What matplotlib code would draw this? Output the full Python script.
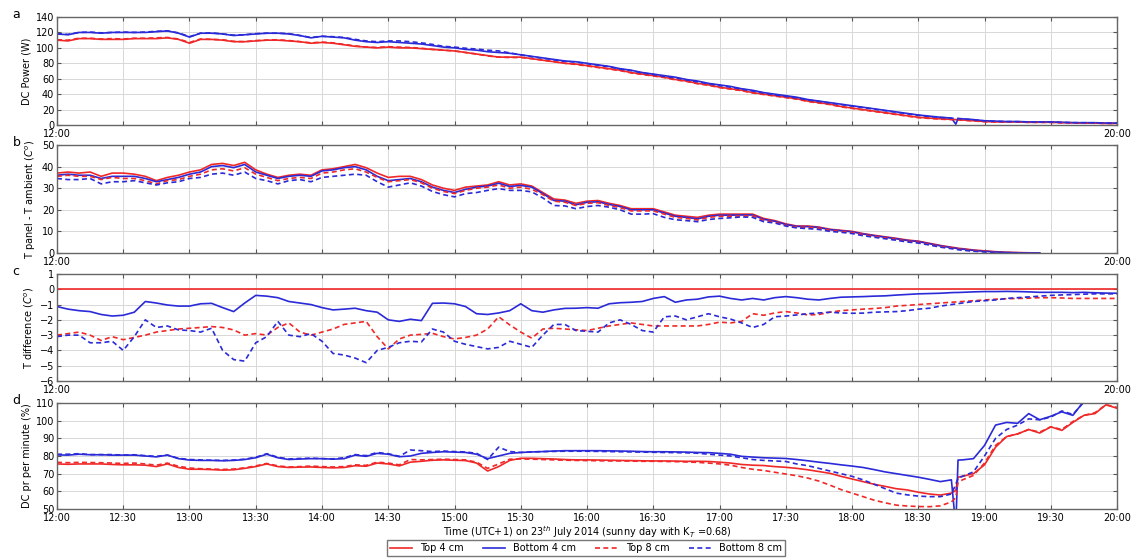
import numpy as np
import matplotlib
matplotlib.use("Agg")
import matplotlib.pyplot as plt

nan = np.nan

# minutes after 12:00, 5 min steps plus two 1-min samples around the 18:47 dropout
minutes = list(range(0, 406, 5)) + [407, 408] + list(range(410, 481, 5))

# --- a: DC power (W) ---
power_top4 = [110, 109, 112, 112, 111, 111, 111, 112, 112, 112, 113, 111,
              106, 111, 111, 110, 108, 108, 109, 110, 110, 109, 108, 106,
              107, 106, 104, 102, 101, 100, 101, 100, 100, 99, 98, 97,
              96, 94, 92, 90, 88, 88, 88, 86, 84, 82, 80, 79,
              77, 75, 73, 71, 68, 66, 64, 62, 59, 57, 54, 52,
              49, 47, 45, 42, 40, 38, 36, 34, 31, 29, 27, 24,
              22, 20, 18, 16, 14, 12, 10, 9, 8, 7.3, 7, 6.8, 6.5, 5.5,
              4.5, 4, 4, 4, 3.5, 3.5, 3.5, 3, 3, 2.5, 2.5, 2, 2]
power_bot4 = [118, 117, 120, 120, 119, 120, 120, 120, 120, 121, 122, 119,
              114, 119, 119, 118, 116, 117, 118, 119, 119, 118, 116, 113,
              115, 114, 113, 110, 108, 107, 108, 107, 106, 105, 103, 101,
              100, 98, 97, 95, 94, 93, 91, 89, 87, 85, 83, 82,
              80, 78, 76, 73, 71, 68, 66, 64, 62, 59, 57, 54,
              52, 50, 47, 45, 42, 40, 38, 36, 33, 31, 29, 27,
              25, 23, 21, 19, 17, 15, 13, 11.5, 10, 9, 1, 8.5, 8, 7,
              5.5, 5, 4.5, 4.5, 4, 4, 4, 3.5, 3, 3, 3, 2.5, 2.5]
power_top8 = [110.5, 110, 112.5, 112.5, 111.5, 112, 111.5, 112.5, 112.5, 113, 113.5, 111.5,
              107, 111.5, 111, 110.5, 108.5, 108, 109.5, 110, 110.5, 109.5, 108, 106.5,
              107.5, 106.5, 104.5, 102.5, 101, 100.5, 101.5, 101, 100.5, 99.5, 98, 97,
              96, 94, 92, 89.5, 88, 87.5, 87.5, 86, 84, 82, 80, 78.5,
              76.5, 74.5, 72.5, 70.5, 67.5, 65.5, 63.5, 61.5, 58.5, 56.5, 53.5, 51.5,
              48.5, 46.5, 44.5, 41.5, 39.5, 37.5, 35.5, 33.5, 30.5, 28.5, 26.5, 23.5,
              21.5, 19.5, 17.5, 15.5, 13.5, 11.5, 9.5, 8.5, 7.5, 7, 6.8, 6.6, 6.2, 5.2,
              4.3, 3.9, 3.8, 3.8, 3.4, 3.4, 3.3, 2.9, 2.8, 2.4, 2.3, 1.9, 1.9]
power_bot8 = [118.5, 117.5, 120, 120.5, 119.5, 120, 120.5, 120, 120.5, 121.5, 122, 119.5,
              114.5, 119, 119.5, 118, 116.5, 117, 118.5, 119, 119, 118.5, 116, 113.5,
              115, 114.5, 113.5, 111, 109, 108, 109, 109, 108, 106.5, 104.5, 102,
              101, 99.5, 98.5, 97, 96, 93.5, 91, 88.5, 86.5, 84.5, 82.5, 81.5,
              79.5, 77.5, 75.5, 72.5, 70.5, 67.5, 65.5, 63, 61, 58.5, 56, 53.5,
              51, 49, 46.5, 44, 41.5, 39, 37, 35, 32.5, 30.5, 28.5, 26.5,
              24.5, 22.5, 20.5, 18.5, 16.5, 14.5, 12.5, 11, 9.8, 8.8, 8.5, 8.2, 7.8, 6.8,
              5.3, 4.8, 4.4, 4.3, 3.9, 3.8, 3.8, 3.4, 3, 2.9, 2.8, 2.4, 2.4]

# --- b: T panel - T ambient ---
dt_top4 = [37, 37.5, 37, 37.5, 35.5, 37, 37, 36.5, 35.5, 33.5, 35, 36,
           37.5, 38.5, 41, 41.5, 40.5, 42, 38.5, 36.5, 35, 36, 36.5, 36,
           38.5, 39, 40, 41, 39.5, 37, 35, 35.5, 35.5, 34, 31.5, 30,
           29, 30.5, 31, 31.5, 33, 31.5, 32, 31, 28, 25, 24.5, 23,
           24, 24.3, 23, 22, 20.5, 20.5, 20.5, 19, 17.5, 17, 16.5, 17.5,
           18, 18, 18, 18, 16, 15, 13.5, 12.5, 12.5, 12, 11, 10.5,
           10, 9, 8.2, 7.5, 6.8, 6, 5.5, 4.5, 3.5, 2.7, 2.4, 2.2, 2, 1.4,
           1.0, 0.6, 0.3, 0.2, 0.1, 0, nan, nan, nan, nan, nan, nan, nan]
dt_bot4 = [36, 36.5, 36, 36, 34.5, 35.5, 35.5, 35.5, 34.5, 33, 34, 35,
           36.5, 37.5, 40, 40.5, 39.5, 41, 37.5, 36, 34.5, 35.5, 36, 35.5,
           38, 38.5, 39.5, 40, 38.5, 35.5, 33.5, 34, 34.5, 33, 30.5, 29,
           28, 29.5, 30.5, 31, 32.3, 30.8, 31.3, 30.5, 27.5, 24.3, 24, 22.3,
           23.5, 23.7, 22.5, 21.5, 20, 20, 20, 18.5, 17, 16.5, 15.8, 17,
           17.5, 17.5, 17.6, 17.6, 15.6, 14.7, 13.2, 12.3, 12.2, 11.8, 10.8, 10.3,
           9.8, 8.8, 8, 7.3, 6.6, 5.8, 5.3, 4.3, 3.3, 2.5, 2.2, 2.0, 1.8, 1.2,
           0.8, 0.5, 0.25, 0.1, 0, 0, nan, nan, nan, nan, nan, nan, nan]
dt_top8 = [35.5, 36, 35.5, 35.5, 34, 35, 34.5, 34.5, 33.5, 32, 33.5, 34,
           35.5, 36.5, 38.5, 39, 38, 39.5, 36.5, 35, 33.5, 34.5, 35, 34.5,
           37, 37.5, 38.5, 39, 37.5, 35, 33, 33.5, 34, 32.5, 30, 28.5,
           27.5, 29, 30, 30.5, 31.5, 30, 30.5, 29.5, 27, 24, 23.5, 22,
           23, 23.3, 22, 21, 19.5, 19.5, 19.5, 18, 16.5, 16, 15.3, 16.5,
           17, 17, 17.2, 17.2, 15.2, 14.3, 12.8, 12, 11.9, 11.5, 10.5, 10,
           9.5, 8.5, 7.7, 7, 6.3, 5.5, 5, 4, 3, 2.3, 2.0, 1.8, 1.6, 1.0,
           0.7, 0.4, 0.2, 0.1, 0, 0, nan, nan, nan, nan, nan, nan, nan]
dt_bot8 = [34.5, 34, 34, 34.5, 32, 33, 33, 33.5, 32.5, 31.5, 32.5, 33,
           34.5, 35, 36.5, 37, 36, 37.5, 34.5, 33.5, 32, 33.5, 34, 33,
           35, 35.5, 36, 36.5, 36, 33, 30.5, 31.5, 32.5, 31, 28.5, 27,
           26, 27.5, 28, 29, 29.8, 29, 29, 28.3, 25.5, 22, 21.8, 20.5,
           21.5, 22, 21.2, 20, 18, 18, 18.2, 16.5, 15.4, 15, 14.5, 15.5,
           16, 16.3, 16.7, 16.5, 14.5, 13.9, 12.5, 11.6, 11.3, 10.9, 10, 9.6,
           9, 8, 7.3, 6.6, 5.9, 5.1, 4.6, 3.7, 2.7, 2, 1.7, 1.5, 1.3, 0.8,
           0.5, 0.3, 0.1, 0, 0, 0, nan, nan, nan, nan, nan, nan, nan]

# --- c: temperature difference relative to the top 4 cm sensor ---
tdiff_top4 = [0.0] * len(minutes)
tdiff_bot4 = [-1.13, -1.3, -1.4, -1.46, -1.65, -1.75, -1.7, -1.5, -0.8, -0.9, -1.03, -1.1,
              -1.1, -0.95, -0.92, -1.2, -1.46, -0.9, -0.4, -0.45, -0.55, -0.8, -0.9, -1.0,
              -1.2, -1.35, -1.3, -1.24, -1.4, -1.5, -2.0, -2.1, -1.96, -2.05, -0.92, -0.9,
              -0.95, -1.13, -1.6, -1.65, -1.55, -1.4, -0.95, -1.4, -1.5, -1.35, -1.25, -1.24,
              -1.2, -1.24, -0.95, -0.88, -0.85, -0.8, -0.6, -0.48, -0.85, -0.7, -0.65, -0.5,
              -0.45, -0.6, -0.7, -0.6, -0.7, -0.55, -0.48, -0.55, -0.65, -0.7, -0.6, -0.52,
              -0.5, -0.48, -0.45, -0.43, -0.38, -0.34, -0.3, -0.28, -0.26, -0.22, -0.21, -0.21, -0.2, -0.17,
              -0.15, -0.15, -0.14, -0.15, -0.17, -0.2, -0.2, -0.2, -0.22, -0.2, -0.23, -0.25, -0.26]
tdiff_top8 = [-3.0, -2.9, -2.8, -3.0, -3.35, -3.1, -3.3, -3.15, -3.0, -2.8, -2.7, -2.6,
              -2.55, -2.5, -2.44, -2.5, -2.66, -3.0, -2.9, -3.0, -2.5, -2.2, -2.8, -3.0,
              -2.8, -2.6, -2.3, -2.2, -2.1, -3.1, -3.9, -3.25, -3.0, -2.95, -2.88, -3.1,
              -3.25, -3.15, -3.0, -2.6, -1.8, -2.33, -2.8, -3.2, -2.6, -2.55, -2.6, -2.65,
              -2.7, -2.55, -2.4, -2.3, -2.2, -2.3, -2.4, -2.4, -2.4, -2.4, -2.4, -2.3,
              -2.15, -2.2, -2.1, -1.6, -1.7, -1.55, -1.46, -1.55, -1.68, -1.65, -1.5, -1.4,
              -1.35, -1.3, -1.26, -1.2, -1.1, -1.05, -1.0, -0.95, -0.9, -0.85, -0.83, -0.82, -0.8, -0.75,
              -0.7, -0.65, -0.62, -0.6, -0.58, -0.55, -0.55, -0.57, -0.6, -0.6, -0.6, -0.6, -0.6]
tdiff_bot8 = [-3.1, -3.0, -3.0, -3.5, -3.5, -3.4, -4.0, -3.1, -2.0, -2.5, -2.4, -2.66,
              -2.7, -2.8, -2.55, -4.0, -4.6, -4.7, -3.5, -3.1, -2.1, -3.0, -3.1, -2.9,
              -3.4, -4.2, -4.3, -4.5, -4.8, -4.0, -3.8, -3.5, -3.4, -3.45, -2.6, -2.8,
              -3.4, -3.6, -3.75, -3.9, -3.8, -3.4, -3.6, -3.8, -3.0, -2.3, -2.3, -2.7,
              -2.75, -2.8, -2.2, -2.0, -2.3, -2.7, -2.8, -1.8, -1.75, -2.0, -1.8, -1.6,
              -1.8, -1.95, -2.2, -2.5, -2.3, -1.8, -1.75, -1.68, -1.6, -1.55, -1.5, -1.55,
              -1.57, -1.56, -1.5, -1.48, -1.46, -1.4, -1.3, -1.24, -1.1, -1.0, -0.96, -0.94, -0.9, -0.8,
              -0.75, -0.7, -0.6, -0.55, -0.5, -0.45, -0.4, -0.37, -0.35, -0.32, -0.3, -0.3, -0.3]

# --- d: DC performance ratio per minute (%) ---
pr_top4 = [75.5, 75.3, 75.5, 75.5, 75.5, 75.2, 75, 75, 74.8, 74, 75.5, 73.5,
           72.5, 72.5, 72.3, 72, 72.2, 73, 74, 75.5, 74, 73.5, 73.7, 73.8,
           73.5, 73.3, 73.5, 74.5, 74.2, 76, 75.5, 74.4, 76.5, 77, 77.6, 77.8,
           77.6, 77.4, 76, 71.5, 74, 77.5, 78.7, 78.7, 78.5, 78.3, 78, 77.8,
           77.8, 77.7, 77.6, 77.5, 77.4, 77.3, 77.2, 77.2, 77.1, 77, 77, 76.9,
           76.5, 76, 75.2, 74.8, 74.6, 74, 73.6, 73, 72.2, 71.2, 70.2, 68.5,
           67, 65.5, 64, 62.8, 61.5, 60.8, 59.5, 58.5, 57.9, 59, 60.5, 68, 68.5, 70,
           75, 85, 91, 92.5, 95, 93, 96.5, 94.5, 99, 103, 104, 109, 107]
pr_bot4 = [80.6, 80.5, 81, 80.7, 80.7, 80.5, 80.5, 80.5, 80, 79.5, 80.5, 78.5,
           77.7, 77.5, 77.5, 77.3, 77.5, 78, 79, 81, 79, 78, 78.3, 78.5,
           78.5, 78.2, 78.5, 80.5, 79.8, 81.5, 81, 79.6, 80, 81.5, 82, 82.4,
           82.2, 82, 81, 78.5, 80, 81.5, 82, 82.3, 82.5, 82.8, 83, 83,
           83, 83, 82.9, 82.8, 82.7, 82.5, 82.4, 82.4, 82.3, 82.2, 82, 81.9,
           81.5, 81, 79.8, 79.4, 79, 78.8, 78.6, 78, 77.3, 76.5, 75.8, 75,
           74.3, 73.5, 72.3, 71, 70, 69, 68, 66.8, 65.5, 66.5, 40, 77.7, 77.8, 78.5,
           86, 97.5, 99, 98.5, 104, 100.5, 102.5, 105, 103, 111, 113, 114, 115]
pr_top8 = [76.4, 76.2, 76.4, 76.3, 76.2, 76, 75.8, 76, 75.5, 74.8, 76, 74.2,
           73.2, 72.8, 72.6, 72.4, 72.6, 73.3, 74.4, 75.8, 74.4, 73.8, 74, 74.3,
           74, 73.8, 74, 75, 74.7, 76.5, 76, 75, 78, 77.8, 78, 78.2,
           78, 77.8, 76.5, 73, 75.5, 78.2, 78.3, 78.2, 78, 77.8, 77.6, 77.5,
           77.4, 77.3, 77.2, 77.2, 77.1, 77, 77, 76.9, 76.8, 76.6, 76.4, 76,
           75.5, 74.8, 73.5, 72.5, 71.8, 70.8, 69.8, 68.8, 67.5, 65.8, 63.5, 61,
           59, 57, 55, 53.5, 52.2, 51.7, 51.4, 51.3, 51.8, 54, 56.5, 65, 66.5, 69,
           76, 86, 91, 92.5, 95, 93.5, 96.5, 95, 99.5, 103, 104.5, 109, 107.5]
pr_bot8 = [81, 81, 81.3, 80.8, 80.8, 80.8, 80.5, 80.7, 80.2, 79.8, 80.5, 78.7,
           78, 77.8, 77.6, 77.5, 77.7, 78.2, 79.3, 81.3, 79.3, 78.3, 78.6, 78.8,
           78.5, 78.4, 79, 80.8, 80.2, 82, 81.3, 79.8, 83.4, 83, 82.5, 82.8,
           82.5, 82.3, 81.5, 78, 85, 82.5, 82, 82.3, 82.5, 82.6, 82.7, 82.7,
           82.7, 82.6, 82.5, 82.4, 82.3, 82.2, 82.1, 82, 81.9, 81.8, 81.6, 81,
           80.5, 80, 79, 78, 77.5, 77.2, 76.9, 75.5, 74.5, 73, 71.5, 70,
           68.5, 66.5, 64, 61.5, 59, 58, 57.3, 57, 57, 58.5, 64, 67.5, 68.5, 71,
           80, 90, 95, 97.5, 101, 100.5, 102, 105.5, 103.5, 110.5, 112.5, 114, 115]

labels = ["Top 4 cm", "Bottom 4 cm", "Top 8 cm", "Bottom 8 cm"]
colors = ["#f02828", "#2a2ad8", "#f02828", "#2a2ad8"]
styles = ["-", "-", (0, (3, 2)), (0, (3, 2))]

panels = [
    ("a", [power_top4, power_bot4, power_top8, power_bot8], "DC Power (W)", (0, 140), 20),
    ("b", [dt_top4, dt_bot4, dt_top8, dt_bot8], r"T panel - T ambient ($C^o$)", (0, 50), 10),
    ("c", [tdiff_top4, tdiff_bot4, tdiff_top8, tdiff_bot8], r"T difference ($C^o$)", (-6, 1), 1),
    ("d", [pr_top4, pr_bot4, pr_top8, pr_bot8], "DC pr per minute (%)", (50, 110), 10),
]

# axes boxes in figure coordinates
boxes = [(0.0503, 0.776, 0.9356, 0.1935),
         (0.0503, 0.5466, 0.9356, 0.1935),
         (0.0503, 0.3172, 0.9356, 0.1918),
         (0.0503, 0.0878, 0.9356, 0.19)]

xticks = list(range(0, 481, 30))


def hhmm(m):
    return f"{12 + m // 60}:{m % 60:02d}"


fig = plt.figure(figsize=(11.33, 5.58), dpi=100)
handles = []
for i, ((letter, data, ylabel, ylim, ystep), box) in enumerate(zip(panels, boxes)):
    ax = fig.add_axes(box)
    for vals, lab, c, ls in zip(data, labels, colors, styles):
        ln, = ax.plot(minutes, vals, color=c, linestyle=ls, lw=1.2, label=lab)
        if i == 3:
            handles.append(ln)
    ax.set_xlim(0, 480)
    ax.set_ylim(*ylim)
    ax.set_yticks(np.arange(ylim[0], ylim[1] + 0.1, ystep))
    ax.set_xticks(xticks)
    if i == 3:
        ax.set_xticklabels([hhmm(m) for m in xticks])
        ax.set_xlabel(r"Time (UTC+1) on 23$^{th}$ July 2014 (sunny day with K$_T$ =0.68)",
                      fontsize=7, labelpad=1)
    else:
        ax.set_xticklabels([hhmm(m) if m in (0, 480) else "" for m in xticks])
    ax.grid(True, color="#d8d8d8", lw=0.7)
    ax.set_axisbelow(True)
    ax.tick_params(direction="in", top=True, right=True, labelsize=7,
                   length=3, color="#555555", pad=2)
    ax.tick_params(axis="x", pad=3)
    for t in ax.get_yticklabels():
        t.set_verticalalignment("center_baseline")
    for sp in ax.spines.values():
        sp.set_color("#666666")
        sp.set_linewidth(1.0)
    ax.set_ylabel(ylabel, fontsize=7, labelpad=3)
    fig.text(0.011, box[1] + box[3] + 0.004, letter, fontsize=9, va="center")

fig.legend(handles=handles, labels=labels, loc="lower center", ncol=4,
           bbox_to_anchor=(0.517, -0.005), fontsize=7, frameon=True,
           fancybox=False, edgecolor="#555555", handlelength=2.3,
           columnspacing=2.0, borderpad=0.3)

fig.savefig("out.png", dpi=100)
